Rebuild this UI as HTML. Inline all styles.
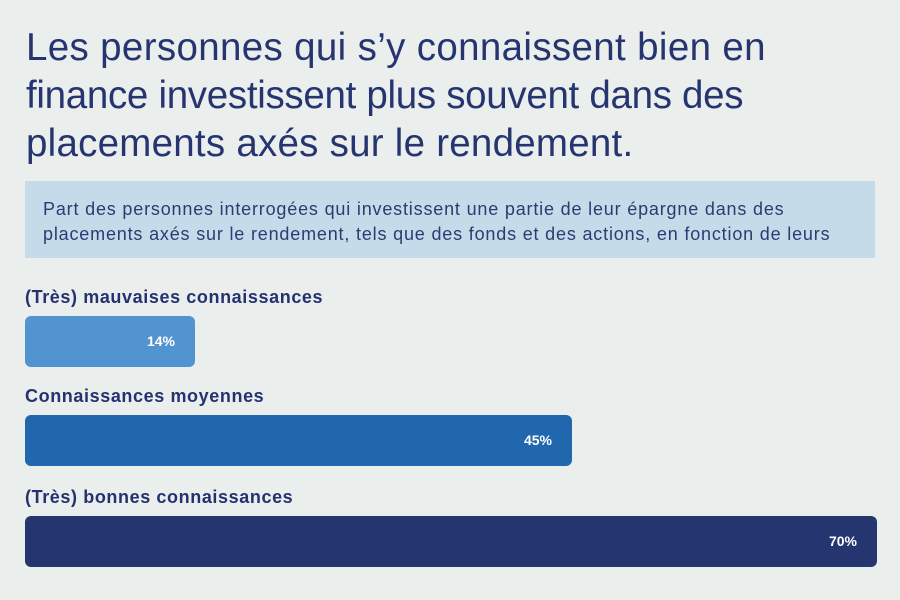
<!DOCTYPE html>
<html><head><meta charset="utf-8"><style>
body{margin:0;width:900px;height:600px;background:#eaeeed;font-family:"Liberation Sans",sans-serif;position:relative;overflow:hidden}
.t{position:absolute;left:26px;top:24px;font-size:38.5px;line-height:48px;color:#263570;white-space:nowrap}
.box{position:absolute;left:25px;top:181px;width:850px;height:77px;background:#c5dbea}
.box div{position:absolute;left:18px;top:16px;font-size:18px;line-height:25px;color:#2d3b70;letter-spacing:0.82px;white-space:nowrap}
.l{position:absolute;left:25px;font-size:18px;font-weight:bold;color:#243270;letter-spacing:0.6px}
.b{position:absolute;left:25px;height:51px;border-radius:6px;color:#fff;font-weight:bold;font-size:14px;line-height:51px;text-align:right;box-sizing:border-box;padding-right:20px}
</style></head><body>
<div class="t"><span style="letter-spacing:0.35px">Les personnes qui s’y connaissent bien en</span><br><span style="letter-spacing:-0.3px">finance investissent plus souvent dans des</span><br><span style="letter-spacing:0.25px">placements axés sur le rendement.</span></div>
<div class="box"><div>Part des personnes interrogées qui investissent une partie de leur épargne dans des<br>placements axés sur le rendement, tels que des fonds et des actions, en fonction de leurs</div></div>
<div class="l" style="top:287px">(Très) mauvaises connaissances</div>
<div class="b" style="top:316px;width:170px;background:#5294d0">14%</div>
<div class="l" style="top:386px">Connaissances moyennes</div>
<div class="b" style="top:415px;width:547px;background:#2067ae">45%</div>
<div class="l" style="top:487px">(Très) bonnes connaissances</div>
<div class="b" style="top:516px;width:852px;background:#243570">70%</div>
</body></html>
